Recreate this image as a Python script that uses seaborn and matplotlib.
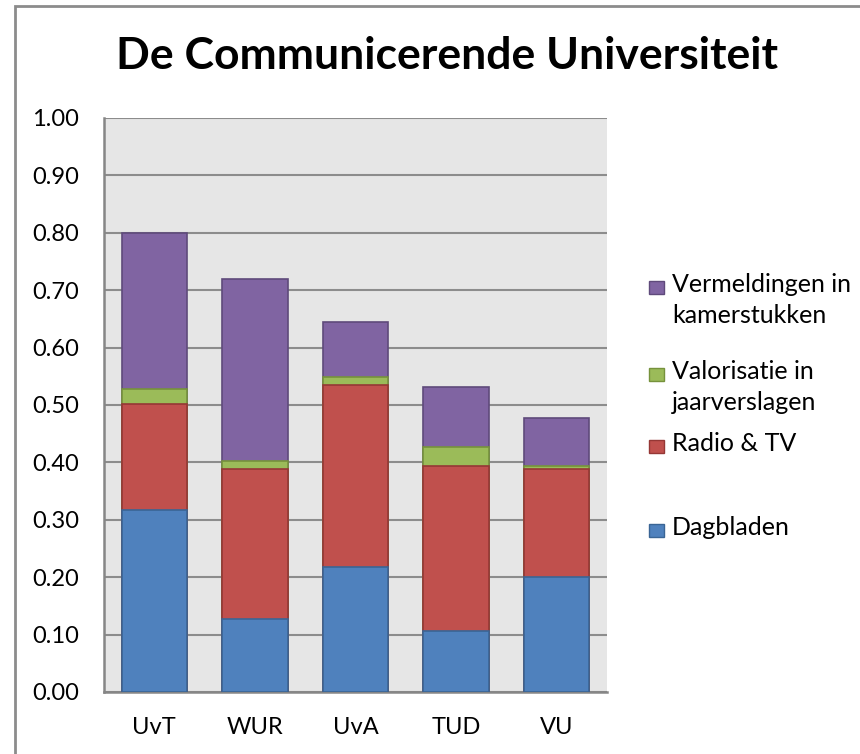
import numpy as np
import pandas as pd
import matplotlib.pyplot as plt
import seaborn as sns
from matplotlib.patches import Rectangle

universities = ["UvT", "WUR", "UvA", "TUD", "VU"]
dagbladen = [0.317, 0.128, 0.217, 0.107, 0.200]
radio_tv = [0.184, 0.261, 0.317, 0.286, 0.188]
valorisatie = [0.027, 0.013, 0.014, 0.034, 0.005]
vermeldingen = [0.271, 0.318, 0.097, 0.104, 0.084]

series_names = ["Dagbladen", "Radio & TV", "Valorisatie in\njaarverslagen",
                "Vermeldingen in\nkamerstukken"]
series_values = [dagbladen, radio_tv, valorisatie, vermeldingen]
fill_colors = ["#4F81BD", "#C0504D", "#9BBB59", "#8064A2"]
edge_colors = ["#3A6595", "#953735", "#76923C", "#5F4A7B"]

sns.set_style("white")
plt.rcParams["font.family"] = ["Lato", "DejaVu Sans"]
plt.rcParams["text.color"] = "black"
plt.rcParams["xtick.color"] = "black"
plt.rcParams["ytick.color"] = "black"

W, H = 860, 754
fig = plt.figure(figsize=(W / 100, H / 100), dpi=100)
ax = fig.add_axes([104 / W, 1 - 692 / H, (607 - 104) / W, (692 - 118) / H])
ax.set_facecolor("#E6E6E6")

# stacked bars: draw cumulative totals, tallest first
df = pd.DataFrame({"uni": universities})
cum = np.zeros(len(universities))
cums = []
for vals in series_values:
    cum = cum + np.array(vals)
    cums.append(cum.copy())
for i in range(len(series_values) - 1, -1, -1):
    df["total"] = cums[i]
    sns.barplot(data=df, x="uni", y="total", order=universities, ax=ax,
                color=fill_colors[i], edgecolor=edge_colors[i], linewidth=1.2,
                width=0.65, saturation=1, zorder=3)

ax.set_ylim(0, 1.0)
ax.set_xlim(-0.5, 4.5)
ax.set_yticks(np.arange(0, 1.01, 0.1))
ax.set_yticklabels([f"{v:.2f}" for v in np.arange(0, 1.01, 0.1)])
ax.yaxis.grid(True, color="#8C8C8C", linewidth=1.5, zorder=0)
ax.set_axisbelow(True)
ax.tick_params(axis="y", length=0, pad=18, labelsize=17, labelcolor="black")
ax.tick_params(axis="x", length=0, pad=18, labelsize=17, labelcolor="black")
ax.set_xlabel("")
ax.set_ylabel("")
for s in ["top", "right"]:
    ax.spines[s].set_visible(False)
for s in ["left", "bottom"]:
    ax.spines[s].set_color("#868686")
    ax.spines[s].set_linewidth(1.8)

fig.text(447 / W, 1 - 56 / H, "De Communicerende Universiteit", ha="center",
         va="center", fontsize=32, fontweight="bold", color="black")

# legend, top entry first
leg_y = [287, 374, 446, 530]
for k, i in enumerate(range(len(series_names) - 1, -1, -1)):
    y = leg_y[k]
    fig.patches.append(Rectangle((649 / W, 1 - (y + 7) / H), 15 / W, 13 / H,
                                 transform=fig.transFigure, facecolor=fill_colors[i],
                                 edgecolor=edge_colors[i], linewidth=1))
    fig.text(672 / W, 1 - (y - 14) / H, series_names[i], ha="left", va="top",
             fontsize=18, linespacing=1.4, color="black")

fig.patches.append(Rectangle((15 / W, -0.05), 1.0, 1 - 6 / H + 0.05,
                             transform=fig.transFigure, fill=False,
                             edgecolor="#8C8C8C", linewidth=2))

fig.savefig("out.png", dpi=100)
